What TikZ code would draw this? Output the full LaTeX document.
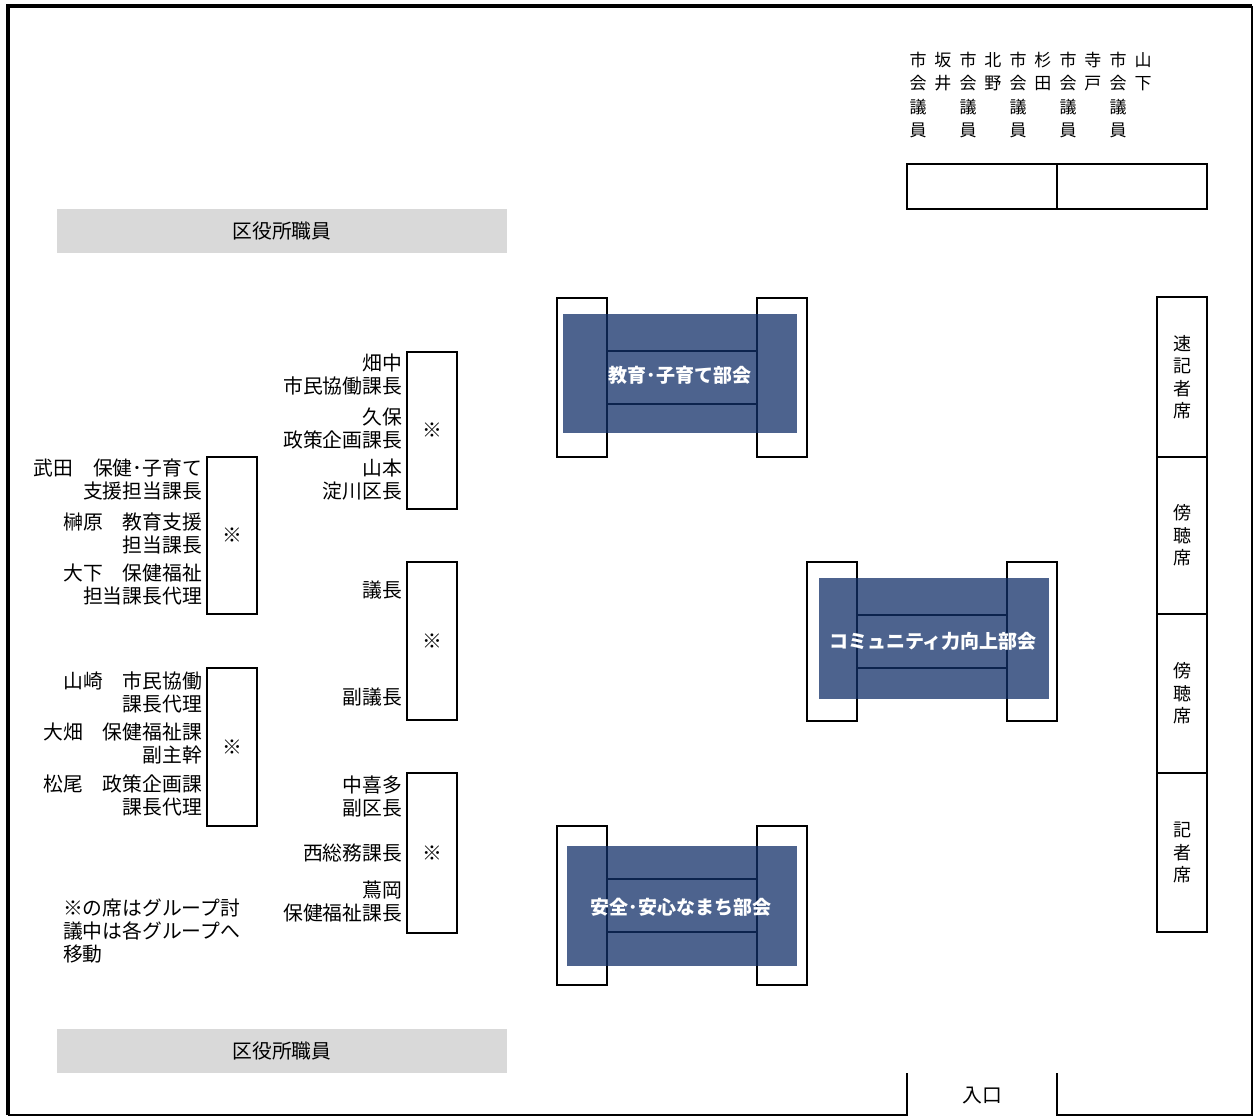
\documentclass[tikz,border=0pt]{standalone}
\usepackage{fontspec}
\newfontfamily\jp{Noto Sans CJK JP}
\usepackage{tikz}
\usetikzlibrary{positioning}
\definecolor{ink}{RGB}{0,0,0}
\definecolor{staffgrey}{RGB}{217,217,217}
\definecolor{deskblue}{RGB}{17,47,104}
\newcommand{\lblfont}{\jp\fontsize{19.8bp}{23bp}\selectfont}
\newcommand{\titlefont}{\jp\bfseries\fontsize{19bp}{22bp}\selectfont}
\newcommand{\giinfont}{\jp\fontsize{17bp}{23.5bp}\selectfont}
\newcommand{\standfont}{\jp\fontsize{18bp}{22.5bp}\selectfont}
\newcommand{\giin}[2]{\begin{tabular}{@{}c@{\hspace{8bp}}c@{}}市&#1\\会&#2\\議&\\員&\end{tabular}}
\tikzset{
  every picture/.style={x=1bp, y=-1bp, color=ink, line width=2bp, font=\lblfont},
  box/.style={draw=ink, inner sep=0pt, outer sep=0pt},
  seat/.style={box, minimum width=50bp},
  strip/.style={box, minimum width=150bp, minimum height=53bp},
  desk/.style={fill=deskblue, fill opacity=0.75, inner sep=0pt, outer sep=0pt},
  title/.style={font=\titlefont, text=white, inner sep=0pt},
  staff/.style={fill=staffgrey, minimum width=450bp, minimum height=44bp, inner sep=0pt},
  who/.style={anchor=east, align=right, inner sep=0pt},
  stand/.style={seat, align=center, font=\standfont},
  bench/.style={box, minimum width=150bp, minimum height=45bp},
  note/.style={anchor=west, align=left, inner sep=0pt},
}

\begin{document}
\begin{tikzpicture}
  \useasboundingbox (0,0) rectangle (1256,1117);
  % walls; the gap at the bottom right is the entrance
  \draw[line width=4bp] (7.5,1115) -- (7.5,5.5) -- (1252,5.5);
  \draw[line width=2bp] (907,1073) -- (907,1114.5) -- (7.5,1114.5);
  \draw[line width=2bp] (1252,5.5) -- (1252,1114.5) -- (1057,1114.5) -- (1057,1073);
  \node (iriguchi) at (982,1096) {入口};

  % ward office staff
  \node[staff] (stafftop) at (282,231) {区役所職員};
  \node[staff] (staffbot) at (282,1051) {区役所職員};

  % city councillors and their bench
  \node[bench] (bench1) at (982,186.5) {};
  \node[bench, right=0pt of bench1] (bench2) {};
  \node[font=\giinfont] (sakai) at (930.5,97) {\giin{坂}{井}};
  \node[font=\giinfont] (kitano) at (980.5,97) {\giin{北}{野}};
  \node[font=\giinfont] (sugita) at (1030.5,97) {\giin{杉}{田}};
  \node[font=\giinfont] (terado) at (1080.5,97) {\giin{寺}{戸}};
  \node[font=\giinfont] (yamashita) at (1130.5,97) {\giin{山}{下}};

  % press and public seats on the right wall
  \node[stand, minimum height=160bp] (sokki) at (1182,377) {速\\記\\者\\席};
  \node[stand, minimum height=157bp, below=0pt of sokki] (bocho1) {傍\\聴\\席};
  \node[stand, minimum height=159bp, below=0pt of bocho1] (bocho2) {傍\\聴\\席};
  \node[stand, minimum height=159bp, below=0pt of bocho2] (kisha) {記\\者\\席};

  % the three group tables: a seat at either end, the table strip between
  \node[strip] (edu) at (682,377.5) {};
  \node[seat, minimum height=159bp, left=0pt of edu] (edul) {};
  \node[seat, minimum height=159bp, right=0pt of edu] (edur) {};
  \node[desk, minimum width=234bp, minimum height=119bp] (edudesk) at (680,373.5) {};
  \node[title] (edut) at (680,375) {教育･子育て部会};

  \node[strip] (comm) at (932,641.5) {};
  \node[seat, minimum height=159bp, left=0pt of comm] (comml) {};
  \node[seat, minimum height=159bp, right=0pt of comm] (commr) {};
  \node[desk, minimum width=230bp, minimum height=121bp] (commdesk) at (934,638.5) {};
  \node[title] (commt) at (933,641) {コミュニティ力向上部会};

  \node[strip] (anzen) at (682,905.5) {};
  \node[seat, minimum height=159bp, left=0pt of anzen] (anzenl) {};
  \node[seat, minimum height=159bp, right=0pt of anzen] (anzenr) {};
  \node[desk, minimum width=230bp, minimum height=120bp] (anzendesk) at (682,906) {};
  \node[title] (anzent) at (681,907) {安全･安心なまち部会};

  % officials' seats (※ = moves to the groups during discussion)
  \node[seat, minimum height=157bp] (mid1) at (432,430.5) {※};
  \node[seat, minimum height=158bp] (mid2) at (432,641) {※};
  \node[seat, minimum height=160bp] (mid3) at (432,853) {※};
  \node[seat, minimum height=157bp] (left1) at (232,535.5) {※};
  \node[seat, minimum height=158bp] (left2) at (232,747) {※};

  \node[who] (hatanaka) at (403,375) {畑中\\市民協働課長};
  \node[who] (kubo) at (403,428) {久保\\政策企画課長};
  \node[who] (yamamoto) at (403,479.5) {山本\\淀川区長};
  \node[who] (gicho) at (403,590) {議長};
  \node[who] (fukugicho) at (403,697) {副議長};
  \node[who] (nakakita) at (403,796.5) {中喜多\\副区長};
  \node[who] (nishi) at (403,853) {西総務課長};
  \node[who] (tsutaoka) at (403,901) {蔦岡\\保健福祉課長};

  \node[who] (takeda) at (203,479.5) {武田　保健･子育て\\支援担当課長};
  \node[who] (sakakibara) at (203,533) {榊原　教育支援\\担当課長};
  \node[who] (oshita) at (203,584) {大下　保健福祉\\担当課長代理};
  \node[who] (yamasaki) at (203,692) {山崎　市民協働\\課長代理};
  \node[who] (ohata) at (203,743.5) {大畑　保健福祉課\\副主幹};
  \node[who] (matsuo) at (203,795) {松尾　政策企画課\\課長代理};

  \node[note] (hint) at (62,931.5) {※の席はグループ討\\議中は各グループへ\\移動};
\end{tikzpicture}
\end{document}
